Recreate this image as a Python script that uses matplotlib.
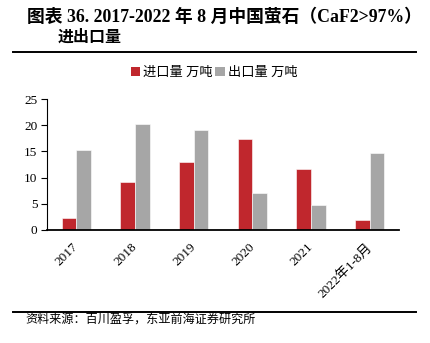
import matplotlib
matplotlib.use("Agg")
import matplotlib.pyplot as plt
from matplotlib.lines import Line2D
from matplotlib.patches import Patch
from matplotlib.transforms import ScaledTranslation
import numpy as np

categories = ["2017", "2018", "2019", "2020", "2021", "2022年1-8月"]
imports = [2.2, 9.1, 13.0, 17.4, 11.6, 2.0]
exports = [15.3, 20.3, 19.1, 7.1, 4.7, 14.6]
series_names = ["进口量 万吨", "出口量 万吨"]
yticks = [0, 5, 10, 15, 20, 25]

RED = "#C0272D"
GRAY = "#A6A6A6"
SERIF_CJK = ["Liberation Serif", "Noto Sans CJK SC"]

plt.rcParams["font.family"] = SERIF_CJK

fig = plt.figure(figsize=(4.30, 3.43), dpi=100)
ax = fig.add_axes([47 / 430, 1 - 230 / 343, (399 - 47) / 430, (230 - 99) / 343])

x = np.arange(len(categories))
w = 0.25
ax.bar(x - w / 2, imports, width=w, color=RED, edgecolor="white", linewidth=0.4)
ax.bar(x + w / 2, exports, width=w, color=GRAY, edgecolor="white", linewidth=0.4)

ax.set_xlim(-0.5, len(categories) - 0.5)
ax.set_ylim(0, 25)
ax.set_yticks(yticks)
ax.set_yticklabels([str(v) for v in yticks], fontsize=9.5, family=SERIF_CJK)
ax.set_xticks(x)
ax.set_xticklabels(categories, rotation=45, ha="right", va="top",
                   rotation_mode="anchor", fontsize=9.5, family=SERIF_CJK)
ax.tick_params(axis="x", length=0, pad=8)
ax.tick_params(axis="y", length=4, width=0.8, direction="out", pad=3)
shift = ScaledTranslation(-4 / 100, 0, fig.dpi_scale_trans)
for lab in ax.get_xticklabels():
    lab.set_transform(lab.get_transform() + shift)
for s in ("top", "right"):
    ax.spines[s].set_visible(False)
ax.spines["left"].set_linewidth(0.8)
ax.spines["bottom"].set_linewidth(1.3)

handles = [Patch(facecolor=RED), Patch(facecolor=GRAY)]
fig.legend(handles, series_names, loc="center", bbox_to_anchor=(214 / 430, 1 - 73 / 343),
           ncol=2, frameon=False, handlelength=0.75, handleheight=0.75,
           handletextpad=0.2, columnspacing=0.2, prop={"family": SERIF_CJK, "size": 9.5})

fig.text(27 / 430, 1 - 17 / 343, "图表 36. 2017-2022 年 8 月中国萤石（CaF2>97%）",
         fontsize=12.8, fontweight="bold", va="center", ha="left")
fig.text(58 / 430, 1 - 38 / 343, "进出口量", fontsize=11.5, fontweight="bold",
         va="center", ha="left")
fig.add_artist(Line2D([13 / 430, 416 / 430], [1 - 52 / 343, 1 - 52 / 343],
                      color="black", linewidth=1.4, transform=fig.transFigure))
fig.add_artist(Line2D([13 / 430, 416 / 430], [1 - 312 / 343, 1 - 312 / 343],
                      color="black", linewidth=1.4, transform=fig.transFigure))
fig.text(25 / 430, 1 - 321 / 343, "资料来源：百川盈孚，东亚前海证券研究所",
         fontsize=8.7, va="center", ha="left")

fig.savefig("out.png", dpi=100)
